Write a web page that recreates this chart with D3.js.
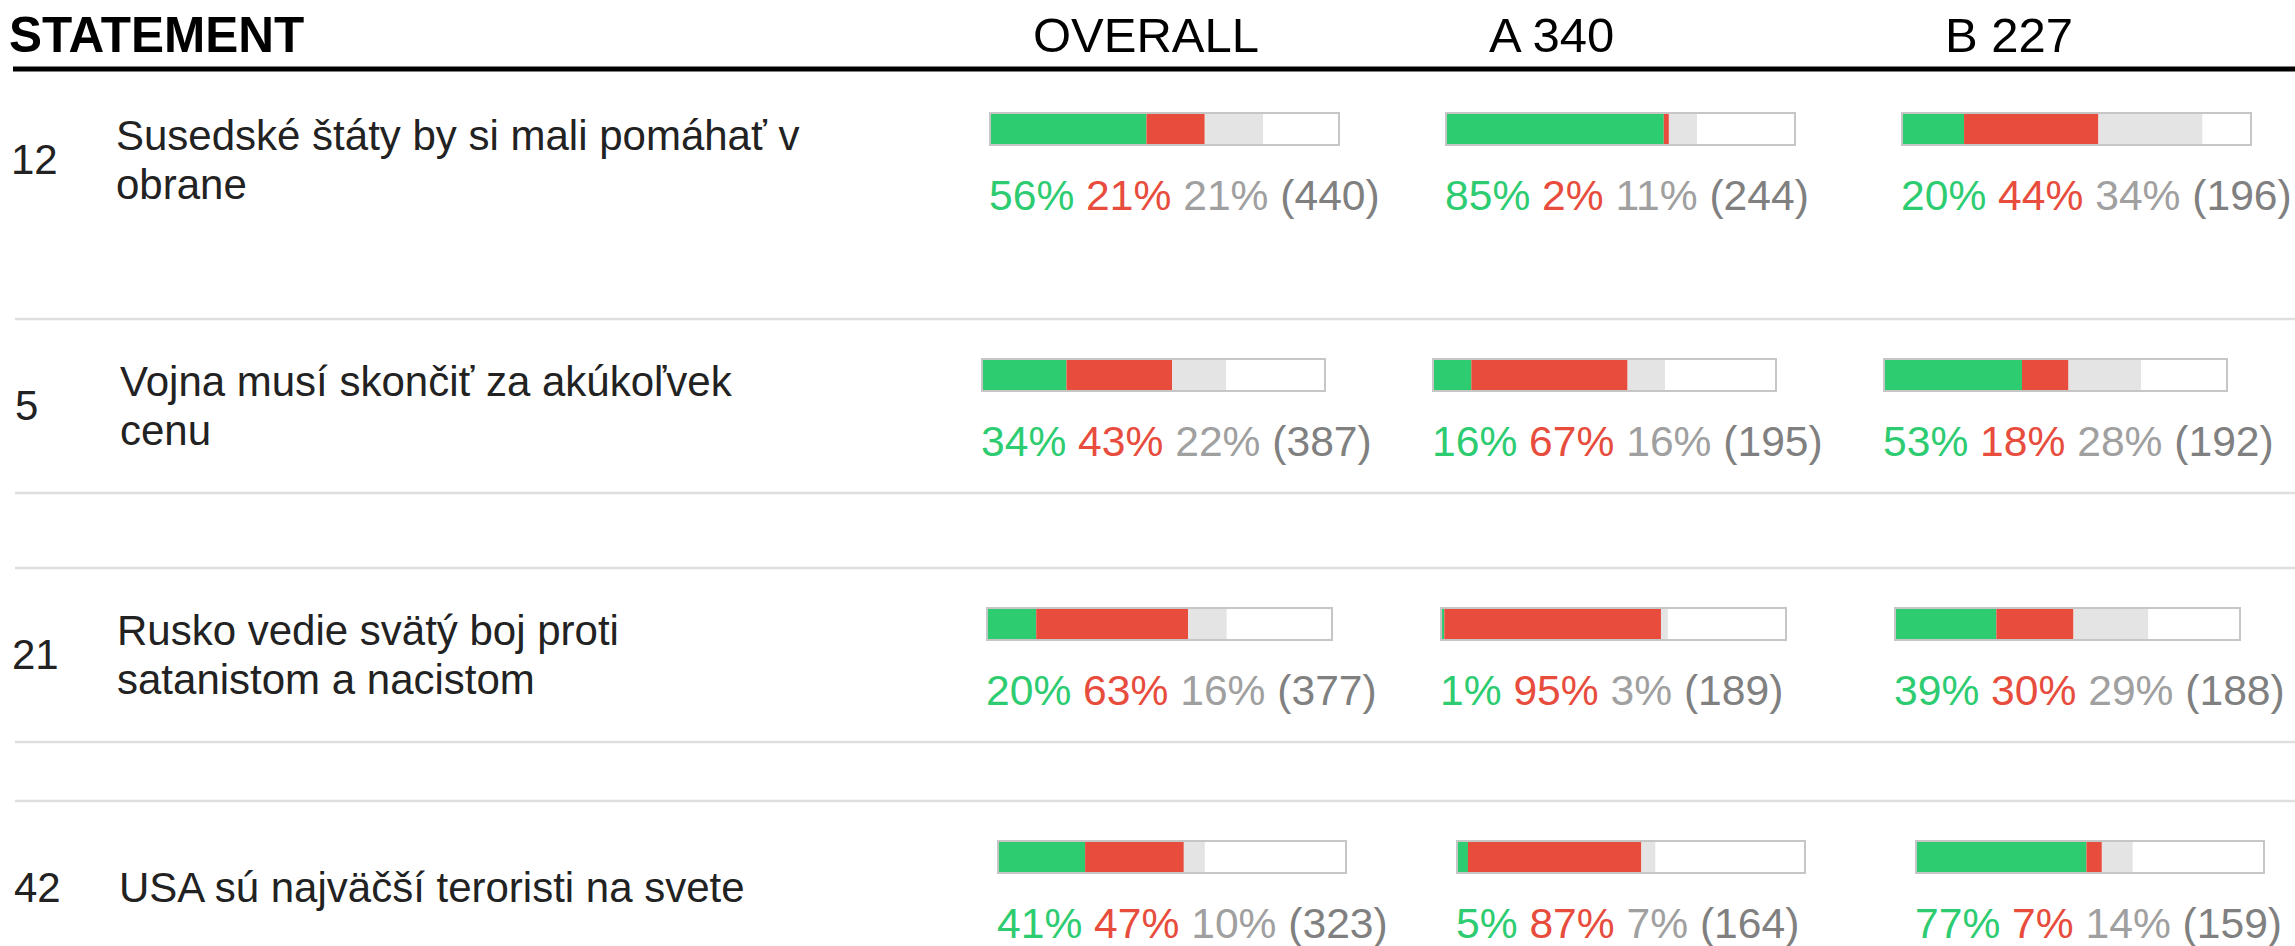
<!DOCTYPE html>
<html>
<head>
<meta charset="utf-8">
<script src="https://cdn.jsdelivr.net/npm/d3@7"></script>
<style>
  body { margin: 0; background: #fff; }
  text { font-family: "Liberation Sans", Arial, sans-serif; white-space: pre; }
</style>
</head>
<body>
<div id="chart"></div>
<script>
// Statements (rows)
var statementIds = ["12", "5", "21", "42"];
var statementLines = [
    ["Susedské štáty by si mali pomáhať v", "obrane"],
    ["Vojna musí skončiť za akúkoľvek", "cenu"],
    ["Rusko vedie svätý boj proti", "satanistom a nacistom"],
    ["USA sú najväčší teroristi na svete"]
];

// Columns
var columnNames = ["OVERALL", "A 340", "B 227"];

// Shares per row, per column (OVERALL, A, B)
var agree = [[56, 85, 20], [34, 16, 53], [20, 1, 39], [41, 5, 77]];
var disagree = [[21, 2, 44], [43, 67, 18], [63, 95, 30], [47, 87, 7]];
var unsure = [[21, 11, 34], [22, 16, 28], [16, 3, 29], [10, 7, 14]];
var counts = [[440, 244, 196], [387, 195, 192], [377, 189, 188], [323, 164, 159]];
// part of the bar box that 100 % takes up
var answered = [[0.80, 0.735, 0.88], [0.72, 0.684, 0.758], [0.703, 0.665, 0.75], [0.607, 0.576, 0.636]];

// Layout of each row (bar top, first bar left, column step, bar width, text shift)
var rowLayout = [
    {y: 112, x0: 989, step: 456, w: 351, tx: 0},
    {y: 358, x0: 981, step: 451, w: 345, tx: 4},
    {y: 607, x0: 986, step: 454, w: 347, tx: 1},
    {y: 840, x0: 997, step: 459, w: 350, tx: 3}
];

var width = 2295, height = 946;
var colors = {agree: "#2ecc71", disagree: "#e74c3c", unsure: "#e4e4e4", unsureText: "#a0a0a0", count: "#808080"};

var svg = d3.select("#chart").append("svg")
    .attr("width", width)
    .attr("height", height);

// Header
svg.append("text")
    .attr("x", 9)
    .attr("y", 52)
    .style("font-size", "49.5px")
    .style("font-weight", "bold")
    .attr("fill", "#000")
    .text("STATEMENT");

svg.selectAll("text.colHead")
    .data(columnNames)
    .enter().append("text")
    .attr("class", "colHead")
    .attr("x", function (d, i) { return rowLayout[0].x0 + i * rowLayout[0].step + 44; })
    .attr("y", 52)
    .style("font-size", "49px")
    .attr("fill", "#000")
    .text(function (d) { return d; });

svg.append("line")
    .attr("x1", 13).attr("x2", width)
    .attr("y1", 69).attr("y2", 69)
    .attr("stroke", "#000")
    .attr("stroke-width", 5);

// Rows
var rows = svg.selectAll("g.row")
    .data(statementIds)
    .enter().append("g")
    .attr("class", "row");

rows.each(function (id, i) {
    var g = d3.select(this);
    var L = rowLayout[i];

    // separators
    if (i > 0) {
        [L.y - 39, L.y + 135].forEach(function (ly) {
            g.append("line")
                .attr("x1", 15).attr("x2", width)
                .attr("y1", ly).attr("y2", ly)
                .attr("stroke", "#dedede")
                .attr("stroke-width", 2.5);
        });
    }

    g.append("text")
        .attr("x", 11 + L.tx)
        .attr("y", L.y + 62)
        .style("font-size", "42px")
        .attr("fill", "#222")
        .text(id);

    var lines = statementLines[i];
    g.selectAll("text.stmt")
        .data(lines)
        .enter().append("text")
        .attr("class", "stmt")
        .attr("x", 116 + L.tx)
        .attr("y", function (d, k) { return L.y + 62 + (k - (lines.length - 1) / 2) * 49; })
        .style("font-size", "42px")
        .attr("fill", "#222")
        .text(function (d) { return d; });

    columnNames.forEach(function (c, j) {
        var left = L.x0 + j * L.step;
        var inner = L.w - 4;
        var x = d3.scaleLinear()
            .domain([0, 100])
            .range([0, inner * answered[i][j]]);

        var vals = [agree[i][j], disagree[i][j], unsure[i][j]];
        var ends = d3.cumsum(vals);
        var fills = [colors.agree, colors.disagree, colors.unsure];

        // box
        g.append("rect")
            .attr("x", left + 1)
            .attr("y", L.y + 1)
            .attr("width", L.w - 2)
            .attr("height", 32)
            .attr("fill", "#fff")
            .attr("stroke", "#c6c6c6")
            .attr("stroke-width", 2);

        g.selectAll("rect.seg" + j)
            .data(vals)
            .enter().append("rect")
            .attr("class", "seg" + j)
            .attr("x", function (d, k) { return left + 2 + x(ends[k] - d); })
            .attr("y", L.y + 2)
            .attr("width", function (d) { return x(d); })
            .attr("height", 30)
            .attr("fill", function (d, k) { return fills[k]; });

        // label
        var t = g.append("text")
            .attr("x", left)
            .attr("y", L.y + 98)
            .style("font-size", "42.6px");
        t.append("tspan").attr("fill", colors.agree).text(agree[i][j] + "% ");
        t.append("tspan").attr("fill", colors.disagree).text(disagree[i][j] + "% ");
        t.append("tspan").attr("fill", colors.unsureText).text(unsure[i][j] + "% ");
        t.append("tspan").attr("fill", colors.count).text("(" + counts[i][j] + ")");
    });
});
</script>
</body>
</html>
